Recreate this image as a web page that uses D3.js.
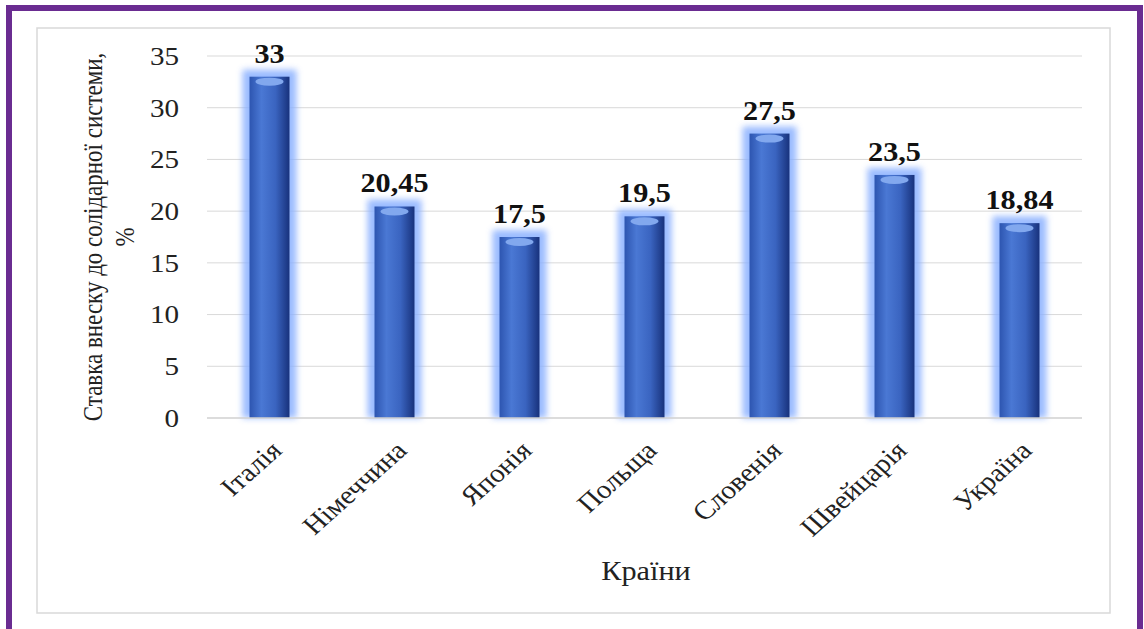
<!DOCTYPE html>
<html>
<head>
  <meta charset="utf-8">
  <script src="https://d3js.org/d3.v7.min.js"></script>
  <style>
    body { margin: 0; background: #fff; }
    text { font-family: "Liberation Serif", "DejaVu Serif", serif; }
  </style>
</head>
<body>
  <svg width="1144" height="629"></svg>

  <script>
    const countries = ["Італія", "Німеччина", "Японія", "Польща", "Словенія", "Швейцарія", "Україна"];
    const rates = [33, 20.45, 17.5, 19.5, 27.5, 23.5, 18.84];
    const rateLabels = ["33", "20,45", "17,5", "19,5", "27,5", "23,5", "18,84"];
    const yTicks = [0, 5, 10, 15, 20, 25, 30, 35];

    const sx = 1.12; // the source picture is a bit wider than tall
    const svg = d3.select("svg");

    // outer purple frame and inner chart box
    svg.append("rect")
      .attr("x", 9).attr("y", 8).attr("width", 1131).attr("height", 630)
      .attr("fill", "#fff").attr("stroke", "#6a2c91").attr("stroke-width", 6);
    svg.append("rect")
      .attr("x", 37).attr("y", 28).attr("width", 1073).attr("height", 585)
      .attr("fill", "#fff").attr("stroke", "#d9d9d9").attr("stroke-width", 1.5);

    const x = d3.scaleBand()
      .domain(countries)
      .range([207, 1082])
      .paddingInner(0.68)
      .paddingOuter(0.34);

    const y = d3.scaleLinear()
      .domain([0, 35])
      .range([418, 56]);

    // gradients
    const defs = svg.append("defs");
    const grad = defs.append("linearGradient").attr("id", "barGrad")
      .attr("x1", "0%").attr("x2", "100%").attr("y1", "0%").attr("y2", "0%");
    grad.append("stop").attr("offset", "0%").attr("stop-color", "#2d55b0");
    grad.append("stop").attr("offset", "30%").attr("stop-color", "#4a78d4");
    grad.append("stop").attr("offset", "65%").attr("stop-color", "#3a64c0");
    grad.append("stop").attr("offset", "100%").attr("stop-color", "#18327c");

    const glow = defs.append("filter").attr("id", "glow")
      .attr("x", "-50%").attr("y", "-20%").attr("width", "200%").attr("height", "140%");
    glow.append("feGaussianBlur").attr("stdDeviation", 3);

    // gridlines
    svg.append("g")
      .selectAll("line")
      .data(yTicks.slice(1))
      .join("line")
      .attr("x1", 207).attr("x2", 1082)
      .attr("y1", d => y(d)).attr("y2", d => y(d))
      .attr("stroke", "#d9d9d9").attr("stroke-width", 1);

    // y axis
    const yAxis = svg.append("g")
      .attr("transform", "translate(207,0)")
      .call(d3.axisLeft(y).tickValues(yTicks).tickSize(0));
    yAxis.select(".domain").remove();
    yAxis.selectAll("text")
      .attr("x", 0)
      .attr("transform", "translate(-28,0) scale(" + sx + ",1)")
      .attr("font-size", 26)
      .attr("fill", "#222")
      .style("font-family", "Liberation Serif, serif");

    // bars
    const bars = svg.append("g").selectAll("g")
      .data(countries)
      .join("g");

    bars.append("rect")
      .attr("x", d => x(d) - 7)
      .attr("y", (d, i) => y(rates[i]) - 7)
      .attr("width", x.bandwidth() + 14)
      .attr("height", (d, i) => y(0) - y(rates[i]) + 7)
      .attr("fill", "#8ab0ff")
      .attr("opacity", 0.85)
      .attr("filter", "url(#glow)");

    bars.append("rect")
      .attr("x", d => x(d))
      .attr("y", (d, i) => y(rates[i]))
      .attr("width", x.bandwidth())
      .attr("height", (d, i) => y(0) - y(rates[i]))
      .attr("fill", "url(#barGrad)");

    bars.append("ellipse")
      .attr("cx", d => x(d) + x.bandwidth() / 2)
      .attr("cy", (d, i) => y(rates[i]) + 5)
      .attr("rx", x.bandwidth() / 2 - 6)
      .attr("ry", 4)
      .attr("fill", "#82a8ee");

    // x axis line
    svg.append("line")
      .attr("x1", 207).attr("x2", 1082)
      .attr("y1", y(0)).attr("y2", y(0))
      .attr("stroke", "#d0d0d0").attr("stroke-width", 1.5);

    // value labels
    svg.append("g").selectAll("text")
      .data(countries)
      .join("text")
      .attr("transform", (d, i) => "translate(" + (x(d) + x.bandwidth() / 2) + "," + (y(rates[i]) - 14) + ") scale(" + sx + ",1)")
      .attr("text-anchor", "middle")
      .attr("font-size", 27)
      .attr("font-weight", "bold")
      .attr("fill", "#111")
      .text((d, i) => rateLabels[i]);

    // category labels
    svg.append("g").selectAll("text")
      .data(countries)
      .join("text")
      .attr("transform", d => "translate(" + (x(d) + x.bandwidth() / 2 + 14) + "," + 452 + ") scale(" + sx + ",1) rotate(-45)")
      .attr("text-anchor", "end")
      .attr("font-size", 26)
      .attr("fill", "#222")
      .text(d => d);

    // axis titles
    const yTitle = svg.append("text")
      .attr("transform", "translate(102,237) scale(1.2,1) rotate(-90)")
      .attr("text-anchor", "middle")
      .attr("font-size", 23)
      .attr("fill", "#222");
    yTitle.append("tspan").attr("x", 0).attr("dy", 0).text("Ставка внеску до солідарної системи,");
    yTitle.append("tspan").attr("x", 0).attr("dy", 27).text("%");

    svg.append("text")
      .attr("transform", "translate(646,580) scale(" + sx + ",1)")
      .attr("text-anchor", "middle")
      .attr("font-size", 27)
      .attr("fill", "#222")
      .text("Країни");
  </script>
</body>
</html>
